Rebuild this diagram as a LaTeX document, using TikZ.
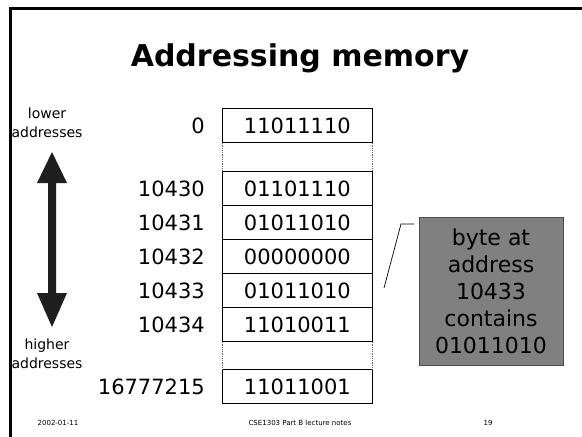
\documentclass[tikz,border=0pt]{standalone}
\usepackage{fontspec}
\setmainfont{DejaVu Sans}
\begin{document}
\begin{tikzpicture}[x=1pt,y=-1pt,
  cell/.style={draw, line width=0.8pt, minimum width=150pt, minimum height=34pt, inner sep=0pt, anchor=north west, font=\fontsize{21}{21}\selectfont},
  addr/.style={anchor=east, inner sep=0pt, font=\fontsize{21}{21}\selectfont},
  gapside/.style={densely dotted, black!60, line width=0.8pt},
  lbl/.style={align=center, inner sep=0pt, font=\fontsize{14}{19}\selectfont},
  titlestyle/.style={inner sep=0pt, font=\fontsize{30}{30}\selectfont\bfseries},
  calloutbox/.style={draw=black!70, fill=black!50, line width=0.8pt, minimum width=144pt, minimum height=148pt, align=center, inner sep=0pt, font=\fontsize{22}{27}\selectfont},
  foot/.style={inner sep=0pt, font=\fontsize{7}{7}\selectfont}]
\useasboundingbox (0,0) rectangle (582,437);
\fill[white] (0,0) rectangle (582,437);
\draw[line width=2.7pt] (10.3,437) -- (10.3,8.7) -- (582,8.7);

\node[titlestyle] (title) at (300,58) {Addressing memory};

\node[cell] (c0) at (222,108) {11011110};
\node[cell] (c1) at (222,171) {01101110};
\node[cell] (c2) at (222,205) {01011010};
\node[cell] (c3) at (222,239) {00000000};
\node[cell] (c4) at (222,273) {01011010};
\node[cell] (c5) at (222,307) {11010011};
\node[cell] (c6) at (222,369) {11011001};

\draw[gapside] (c0.south west) -- (c1.north west);
\draw[gapside] (c0.south east) -- (c1.north east);
\draw[gapside] (c5.south west) -- (c6.north west);
\draw[gapside] (c5.south east) -- (c6.north east);

\node[addr] (a0) at ([xshift=-17pt]c0.west) {0};
\node[addr] (a1) at ([xshift=-17pt]c1.west) {10430};
\node[addr] (a2) at ([xshift=-17pt]c2.west) {10431};
\node[addr] (a3) at ([xshift=-17pt]c3.west) {10432};
\node[addr] (a4) at ([xshift=-17pt]c4.west) {10433};
\node[addr] (a5) at ([xshift=-17pt]c5.west) {10434};
\node[addr] (a6) at ([xshift=-17pt]c6.west) {16777215};

\node[lbl] (lower) at (47,123) {lower\\addresses};
\node[lbl] (higher) at (47,354) {higher\\addresses};

\fill[black!88] (52,152) -- (67,183) -- (56,183) -- (56,293) -- (67,293) -- (52,327)
  -- (37,293) -- (48,293) -- (48,183) -- (37,183) -- cycle;

\node[calloutbox] (co) at (491,291) {byte at\\address\\10433\\contains\\01011010};
\coordinate (s) at (414,224);
\coordinate (k) at (401,224);
\coordinate (e) at (384,288);
\draw[line width=0.7pt] (s) -- (k) -- (e);

\node[foot] (date) at (58,423) {2002-01-11};
\node[foot] (course) at (300,423) {CSE1303 Part B lecture notes};
\node[foot] (page) at (488,423) {19};
\end{tikzpicture}
\end{document}
